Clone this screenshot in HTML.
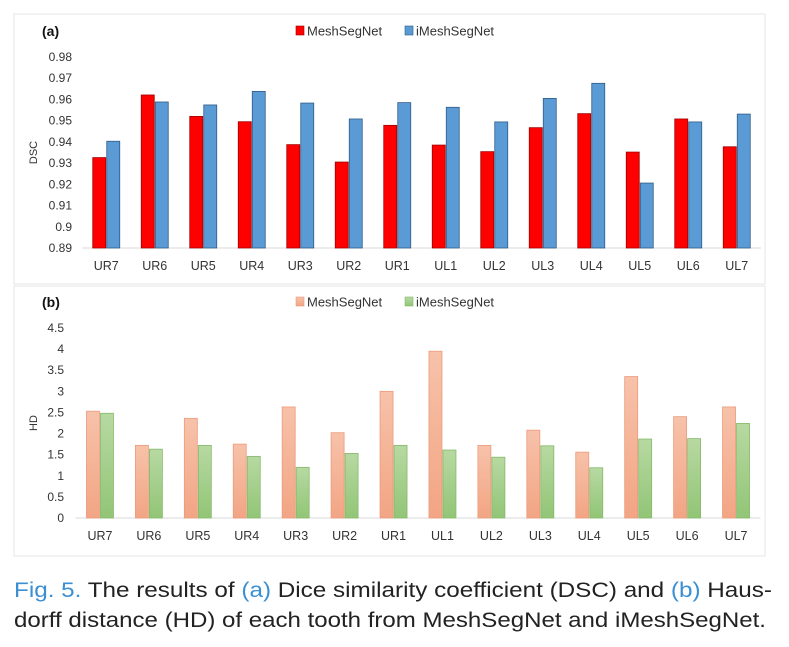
<!DOCTYPE html>
<html><head><meta charset="utf-8"><style>
html,body{margin:0;padding:0;background:#fff;}
svg{display:block;font-family:"Liberation Sans",sans-serif;}
</style></head><body>
<svg id="fig" width="789" height="647" viewBox="0 0 789 647" xmlns="http://www.w3.org/2000/svg">
<defs>
<linearGradient id="gOr" x1="0" y1="0" x2="0" y2="1"><stop offset="0" stop-color="#f7c2aa"/><stop offset="1" stop-color="#f2a584"/></linearGradient>
<linearGradient id="gGr" x1="0" y1="0" x2="0" y2="1"><stop offset="0" stop-color="#b7d9a2"/><stop offset="1" stop-color="#92c576"/></linearGradient>
</defs>
<rect x="14" y="14" width="751" height="270" fill="#fff" stroke="#e4e4e4"/>
<rect x="14" y="286" width="751" height="270" fill="#fff" stroke="#e4e4e4"/>
<g id="ca"></g><g id="cb"></g>
<g font-size="21" fill="#222">
<text x="14" y="597" textLength="758" lengthAdjust="spacingAndGlyphs"><tspan fill="#3b8fd3">Fig. 5.</tspan>   The results of <tspan fill="#3b8fd3">(a)</tspan> Dice similarity coefficient (DSC) and <tspan fill="#3b8fd3">(b)</tspan> Haus-</text>
<text x="14" y="627" textLength="752" lengthAdjust="spacingAndGlyphs">dorff distance (HD) of each tooth from MeshSegNet and iMeshSegNet.</text>
</g>
</svg>
<script>
const categories=["UR7","UR6","UR5","UR4","UR3","UR2","UR1","UL1","UL2","UL3","UL4","UL5","UL6","UL7"];
const dscMesh=[0.9326,0.9621,0.952,0.9495,0.9387,0.9305,0.9478,0.9385,0.9354,0.9467,0.9533,0.9352,0.9508,0.9377];
const dscIMesh=[0.9403,0.9588,0.9574,0.9638,0.9583,0.9508,0.9585,0.9563,0.9494,0.9605,0.9676,0.9206,0.9494,0.9531];
const hdMesh=[2.53,1.72,2.36,1.75,2.63,2.02,3.0,3.95,1.72,2.08,1.56,3.35,2.40,2.63];
const hdIMesh=[2.48,1.63,1.72,1.46,1.20,1.53,1.72,1.61,1.44,1.71,1.19,1.87,1.88,2.24];
const dscTicks=["0.89","0.9","0.91","0.92","0.93","0.94","0.95","0.96","0.97","0.98"];
const hdTicks=["0","0.5","1","1.5","2","2.5","3","3.5","4","4.5"];
const NS="http://www.w3.org/2000/svg";
function mk(parent,tag,attrs,txt){const e=document.createElementNS(NS,tag);for(const k in attrs)e.setAttribute(k,attrs[k]);if(txt!==undefined)e.textContent=txt;parent.appendChild(e);return e;}
function chart(g,cfg){
  const x0=cfg.x0,x1=cfg.x1,band=(x1-x0)/categories.length;
  const ymin=+cfg.ticks[0],ymax=+cfg.ticks[cfg.ticks.length-1];
  const ys=v=>cfg.yb-(v-ymin)/(ymax-ymin)*(cfg.yb-cfg.yt);
  const xs=i=>x0+band*(i+0.5);
  const base=mk(g,"line",{x1:x0,x2:x1,y1:cfg.yb,y2:cfg.yb,stroke:"#d9d9d9"});
  
  
  cfg.ticks.forEach(t=>{const tx=mk(g,"text",{x:cfg.tx,y:ys(+t)+4,"text-anchor":"end","font-size":12,fill:"#333"},t);
    
    });
  categories.forEach((c,i)=>{
    const t=mk(g,"text",{x:xs(i),y:cfg.yb+22,"text-anchor":"middle","font-size":12.5,fill:"#333"},c);
    
    
    const bw=13;
    const v1=cfg.s1[i],v2=cfg.s2[i];
    const r1=mk(g,"rect",{x:xs(i)-bw-0.5,y:ys(v1),width:bw,height:cfg.yb-ys(v1),fill:cfg.f1,stroke:cfg.k1,"stroke-width":0.8});
    
    
    const r2=mk(g,"rect",{x:xs(i)+0.5,y:ys(v2),width:bw,height:cfg.yb-ys(v2),fill:cfg.f2,stroke:cfg.k2,"stroke-width":0.8});
    
    
  });
  const yl=mk(g,"text",{x:0,y:0,transform:`translate(${cfg.ylx},${(cfg.yt+cfg.yb)/2}) rotate(-90)`,"text-anchor":"middle","font-size":11,fill:"#333"},cfg.ylabel);
  
  
  const pl=mk(g,"text",{x:42,y:cfg.ly+5,"font-size":14,"font-weight":"bold",fill:"#111"},cfg.panel);
  
  
  [[296,cfg.f1,cfg.k1,"MeshSegNet"],[405,cfg.f2,cfg.k2,"iMeshSegNet"]].forEach(([lx,f,k,n])=>{
    const sw=mk(g,"rect",{x:lx,y:cfg.ly-5,width:8,height:9,fill:f,stroke:k,"stroke-width":0.6});
    
    
    const lt=mk(g,"text",{x:lx+11,y:cfg.ly+4.5,"font-size":13,fill:"#333"},n);
    
    
  });
}
chart(document.getElementById("ca"),{x0:82,x1:761,yt:57,yb:248,tx:72,ticks:dscTicks,s1:dscMesh,s2:dscIMesh,f1:"#ff0000",k1:"#a00000",f2:"#5b9bd5",k2:"#2e5b85",ylabel:"DSC",ylx:37,panel:"(a)",ly:31});
chart(document.getElementById("cb"),{x0:75.5,x1:760.5,yt:328,yb:518,tx:64,ticks:hdTicks,s1:hdMesh,s2:hdIMesh,f1:"url(#gOr)",k1:"#ec9a7c",f2:"url(#gGr)",k2:"#86b96a",ylabel:"HD",ylx:37,panel:"(b)",ly:302});
</script>
</body></html>
